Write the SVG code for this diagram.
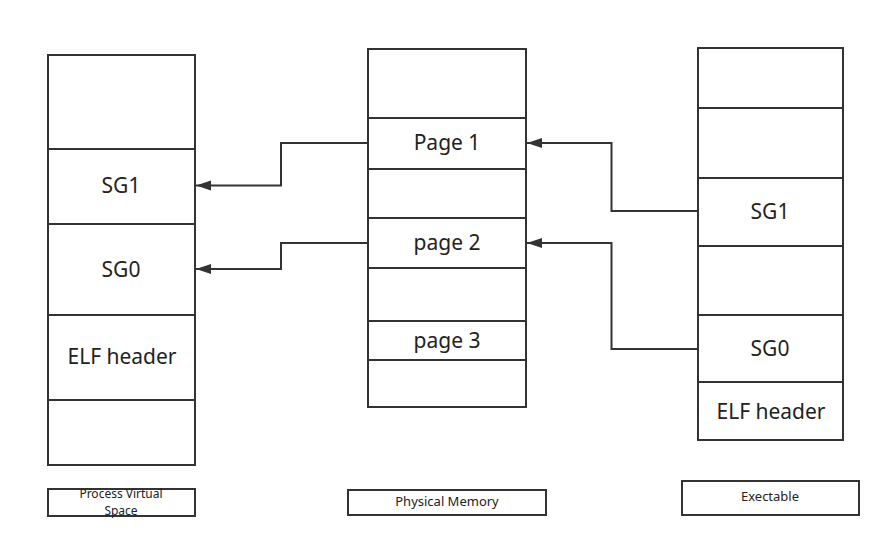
<svg xmlns="http://www.w3.org/2000/svg" width="891" height="548" viewBox="0 0 891 548">
<style>
.box{fill:#fff;stroke:#333;stroke-width:2}
.ln{stroke:#333;stroke-width:2}
.t{font-family:"Noto Sans","Open Sans",sans-serif;font-size:21px;fill:#222;text-anchor:middle;dominant-baseline:central}
.s{font-family:"Noto Sans","Open Sans",sans-serif;font-size:13px;fill:#222;text-anchor:middle;dominant-baseline:central}
.p{font-family:"Noto Sans","Open Sans",sans-serif;font-size:12px;fill:#222;text-anchor:middle;dominant-baseline:central}
.c{fill:none;stroke:#333;stroke-width:2}
</style>
<defs>
<marker id="ah" markerUnits="userSpaceOnUse" markerWidth="16" markerHeight="12" refX="15" refY="5" orient="auto">
<path d="M0,0 L15,5 L0,10 Z" fill="#333"/>
</marker>
</defs>
<rect width="891" height="548" fill="#fff"/>
<g id="process-virtual-space">
<rect class="box" x="48" y="55" width="147" height="410"/>
<line class="ln" x1="48" y1="149" x2="195" y2="149"/>
<line class="ln" x1="48" y1="224" x2="195" y2="224"/>
<line class="ln" x1="48" y1="315" x2="195" y2="315"/>
<line class="ln" x1="48" y1="400" x2="195" y2="400"/>
<text class="t" x="121" y="185">SG1</text>
<text class="t" x="121" y="269">SG0</text>
<text class="t" x="122" y="356">ELF header</text>
</g>
<g id="physical-memory">
<rect class="box" x="368" y="49" width="158" height="358"/>
<line class="ln" x1="368" y1="118" x2="526" y2="118"/>
<line class="ln" x1="368" y1="169" x2="526" y2="169"/>
<line class="ln" x1="368" y1="218" x2="526" y2="218"/>
<line class="ln" x1="368" y1="268" x2="526" y2="268"/>
<line class="ln" x1="368" y1="321" x2="526" y2="321"/>
<line class="ln" x1="368" y1="360" x2="526" y2="360"/>
<text class="t" x="447" y="142">Page 1</text>
<text class="t" x="447" y="242">page 2</text>
<text class="t" x="447" y="340">page 3</text>
</g>
<g id="executable">
<rect class="box" x="698" y="48" width="145" height="392"/>
<line class="ln" x1="698" y1="108" x2="843" y2="108"/>
<line class="ln" x1="698" y1="178" x2="843" y2="178"/>
<line class="ln" x1="698" y1="246" x2="843" y2="246"/>
<line class="ln" x1="698" y1="315" x2="843" y2="315"/>
<line class="ln" x1="698" y1="382" x2="843" y2="382"/>
<text class="t" x="770" y="211">SG1</text>
<text class="t" x="770" y="348">SG0</text>
<text class="t" x="771" y="411">ELF header</text>
</g>
<g id="label-process">
<rect class="box" x="48" y="489" width="147" height="27"/>
<text class="p" x="121" y="493">Process Virtual</text>
<text class="p" x="121" y="510">Space</text>
</g>
<g id="label-physical">
<rect class="box" x="348" y="490" width="198" height="25"/>
<text class="s" x="447" y="501">Physical Memory</text>
</g>
<g id="label-executable">
<rect class="box" x="682" y="481" width="177" height="34"/>
<text class="s" x="770" y="496">Exectable</text>
</g>
<g id="connectors">
<path class="c" d="M368,143 H281 V185.5 H196" marker-end="url(#ah)"/>
<path class="c" d="M368,243 H281 V269 H196" marker-end="url(#ah)"/>
<path class="c" d="M698,211 H611.5 V143 H527" marker-end="url(#ah)"/>
<path class="c" d="M698,349 H611.5 V243 H527" marker-end="url(#ah)"/>
</g>
</svg>
